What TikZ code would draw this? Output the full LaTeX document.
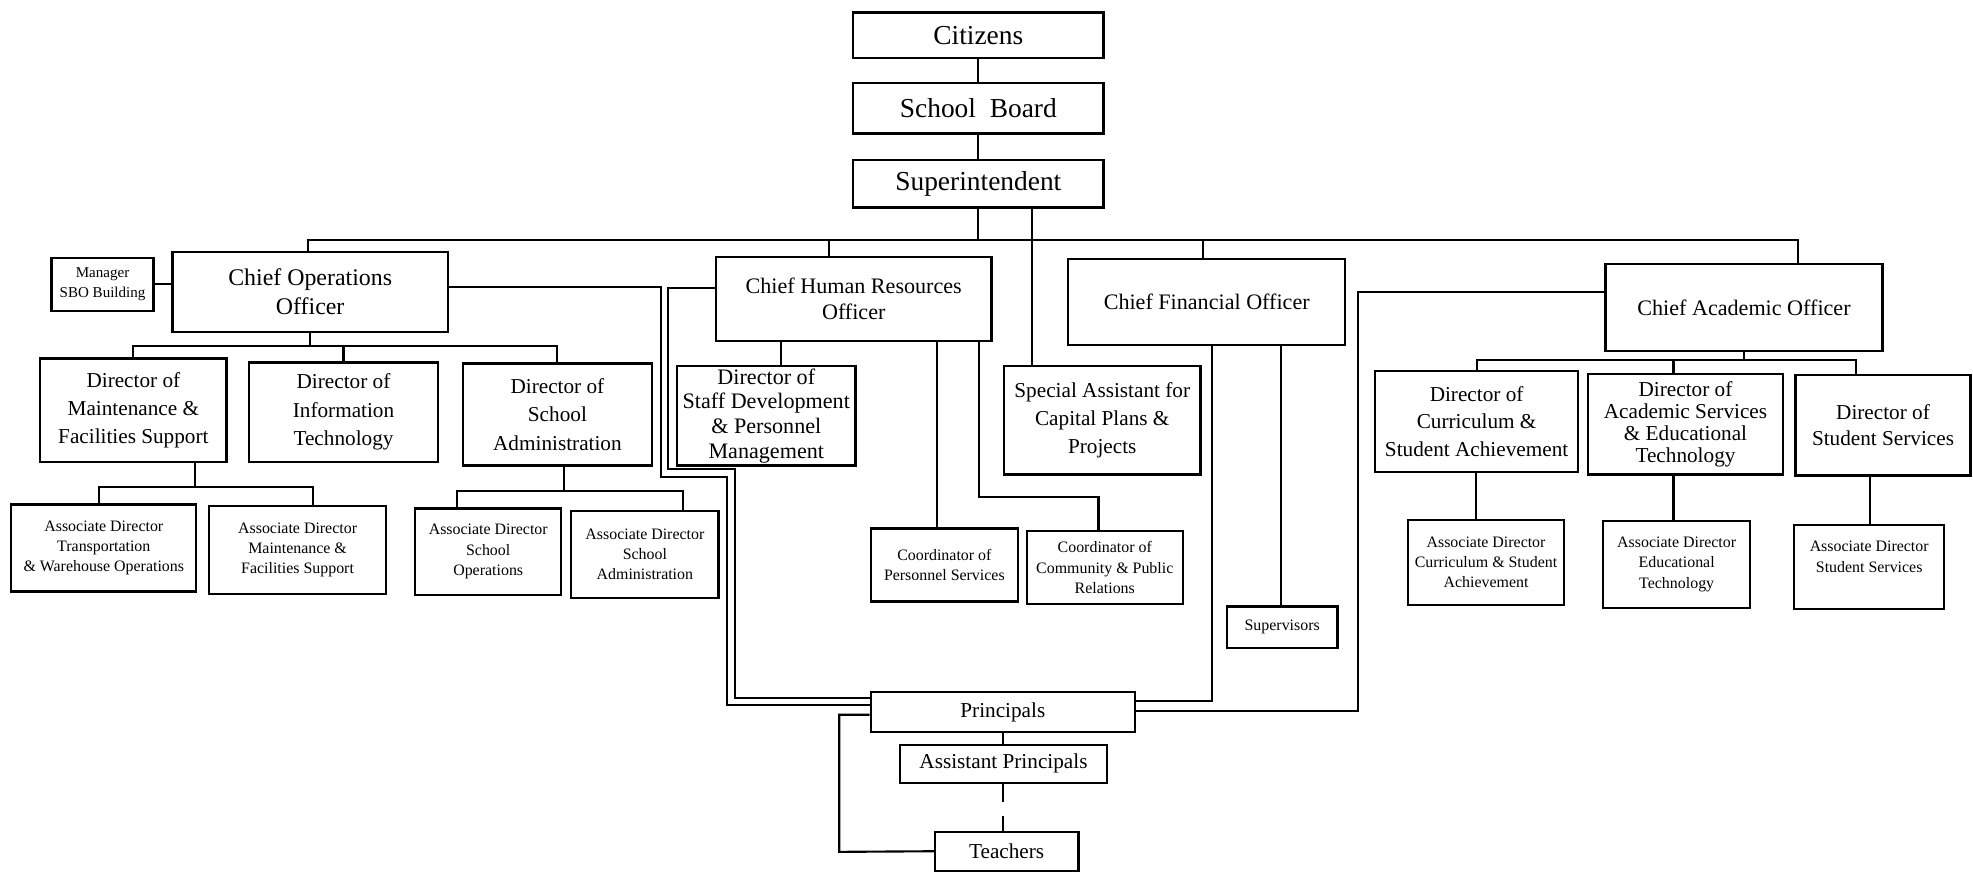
\documentclass[tikz,border=0pt]{standalone}
\usepackage{fontspec}
\setmainfont{Liberation Serif}
\usepackage{tikz}
\usetikzlibrary{calc}

\begin{document}
\begin{tikzpicture}[x=0.25mm, y=-0.25mm, line width=1.2pt,
  box/.style={draw, line width=1.3pt, align=center, inner sep=1pt},
  sz/.style 2 args={minimum width=#1*0.25mm, minimum height=#2*0.25mm},
  toptxt/.style={font=\fontsize{15.5}{19}\selectfont},
  chieftxt/.style={font=\fontsize{12.5}{15}\selectfont},
  dirtxt/.style={font=\fontsize{12}{16}\selectfont},
  assoctxt/.style={font=\fontsize{9}{11.5}\selectfont},
  basetxt/.style={font=\fontsize{12}{14}\selectfont}]
\useasboundingbox (0,0) rectangle (1568,693);

\node[box, toptxt, sz={199}{36}] (citizens) at (777.5,28) {Citizens};
\node[box, toptxt, sz={199}{40}] (board) at (777.5,86) {School~ Board};
\node[box, toptxt, sz={199}{38}] (supt) at (777.5,146) {Superintendent};

\node[box, font=\fontsize{8.5}{11.5}\selectfont, sz={81}{42}] (mgr) at (81.5,226) {Manager\\SBO Building};
\node[box, font=\fontsize{13.5}{16.5}\selectfont, sz={219}{64}] (coo) at (246.5,232) {Chief Operations\\Officer};
\node[box, dirtxt, sz={148}{82}] (dmaint) at (106,326) {Director of\\Maintenance \&\\Facilities Support};
\node[box, dirtxt, sz={150}{79}] (dit) at (273,327.5) {Director of\\Information\\Technology};
\node[box, dirtxt, sz={150}{81}] (dsadm) at (443,329.5) {Director of\\School\\Administration};
\node[box, assoctxt, sz={147}{69}] (atrans) at (82.5,435.5) {Associate Director\\Transportation\\\& Warehouse Operations};
\node[box, assoctxt, sz={141}{70}] (amaint) at (236.5,437) {Associate Director\\Maintenance \&\\Facilities Support};
\node[box, assoctxt, sz={116}{69}] (aops) at (388,438.5) {Associate Director\\School\\Operations};
\node[box, assoctxt, sz={117}{69}] (aadm) at (512.5,440.5) {Associate Director\\School\\Administration};

\node[box, chieftxt, sz={219}{67}] (chro) at (678.5,237.5) {Chief Human Resources\\Officer};
\node[box, font=\fontsize{12.5}{14}\selectfont, sz={142}{79}] (dstaff) at (609,330.5) {Director of\\Staff Development\\\& Personnel\\Management};
\node[box, assoctxt, sz={117}{58}] (cpers) at (750.5,449) {Coordinator of\\Personnel Services};
\node[box, assoctxt, sz={124}{58}] (ccomm) at (878,451) {Coordinator of\\Community \& Public\\Relations};
\node[box, dirtxt, sz={156}{86}] (spec) at (876,334) {Special Assistant for\\Capital Plans \&\\Projects};

\node[box, chieftxt, sz={220}{68}] (cfo) at (959,240) {Chief Financial Officer};
\node[box, assoctxt, sz={88}{33}] (superv) at (1019,498.5) {Supervisors};

\node[box, chieftxt, sz={220}{69}] (cao) at (1386,244.5) {Chief Academic Officer};
\node[box, font=\fontsize{12}{15.5}\selectfont, sz={161}{80}] (dcurr) at (1173.5,335) {Director of\\Curriculum \&\\Student Achievement};
\node[box, font=\fontsize{12}{12.5}\selectfont, sz={155}{80}] (dacad) at (1339.5,337) {Director of\\Academic Services\\\& Educational\\Technology};
\node[box, font=\fontsize{12}{15}\selectfont, sz={139}{80}] (dstud) at (1496.5,338) {Director of\\Student Services};
\node[box, assoctxt, sz={124}{68}] (acurr) at (1181,447) {Associate Director\\Curriculum \& Student\\Achievement};
\node[box, assoctxt, sz={117}{69}] (aedt) at (1332.5,448.5) {Associate Director\\Educational\\Technology};
\node[box, assoctxt, sz={119}{67}] (astud) at (1485.5,450.5) {Associate Director\\Student Services\\\mbox{}};

\node[box, basetxt, sz={210}{32}] (princ) at (797,566) {Principals};
\node[box, basetxt, sz={165}{30}] (asst) at (797.5,607) {Assistant Principals};
\node[box, basetxt, sz={114}{31}] (teach) at (800,676.5) {Teachers};

\coordinate (busL) at (245,191);
\coordinate (busR) at (1429,191);

\draw (citizens) -- (board);
\draw (board) -- (supt);
\draw (supt) -- (supt |- busL);
\draw (coo.north -| busL) -- (busL) -- (busR) -- (busR |- cao.north);
\draw (chro.north -| 659,0) -- (659,191);
\draw (cfo.north -| 956,0) -- (956,191);
\draw (supt.south -| 820,0) -- (spec.north -| 820,0);

\draw (mgr.east) -- (mgr.east -| coo.west);
\draw (coo.south) -- ++(0,10) coordinate (cooBus);
\draw (dmaint.north) |- (cooBus) -| (dsadm.north);
\draw (dit.north) -- (dit.north |- cooBus);
\draw (dmaint.south -| 155,0) -- (155,387) coordinate (mBus);
\draw (atrans.north -| 79,0) |- (mBus) -| (amaint.north -| 249,0);
\draw (dsadm.south -| 448,0) -- (448,390) coordinate (sBus);
\draw (aops.north -| 363,0) |- (sBus) -| (aadm.north -| 543,0);

\draw (coo.east |- 0,228) -| (525,379) -| (578,560) -- (princ.west |- 0,560);
\draw (chro.west |- 0,229) -| (531,373) -| (584,555) -- (princ.west |- 0,555);

\draw (chro.south -| 621,0) -- (dstaff.north -| 621,0);
\draw (chro.south -| 745,0) -- (cpers.north -| 745,0);
\draw (chro.south -| 778,0) |- (873,395) -- (ccomm.north -| 873,0);

\draw (cfo.south -| 963,0) |- (princ.east |- 0,557);
\draw (cfo.south -| 1018,0) -- (superv.north -| 1018,0);

\draw (cao.west |- 0,232) -| (1079,565) -- (princ.east |- 0,565);
\draw (cao.south) -- ++(0,6) coordinate (caoBus);
\draw (dcurr.north) |- (caoBus) -| (dstud.north -| 1475,0);
\draw (dacad.north -| 1330,0) -- (1330,0 |- caoBus);
\draw (dcurr.south -| 1173,0) -- (acurr.north -| 1173,0);
\draw (dacad.south -| 1330,0) -- (aedt.north -| 1330,0);
\draw (dstud.south -| 1486,0) -- (astud.north -| 1486,0);

\draw (princ.south -| 797,0) -- (asst.north -| 797,0);
\draw[dash pattern=on 10.5pt off 7.5pt] (asst.south -| 797,0) -- (teach.north -| 797,0);
\draw (princ.west |- 0,568) -| (667,677) -- (teach.west);
\end{tikzpicture}
\end{document}
